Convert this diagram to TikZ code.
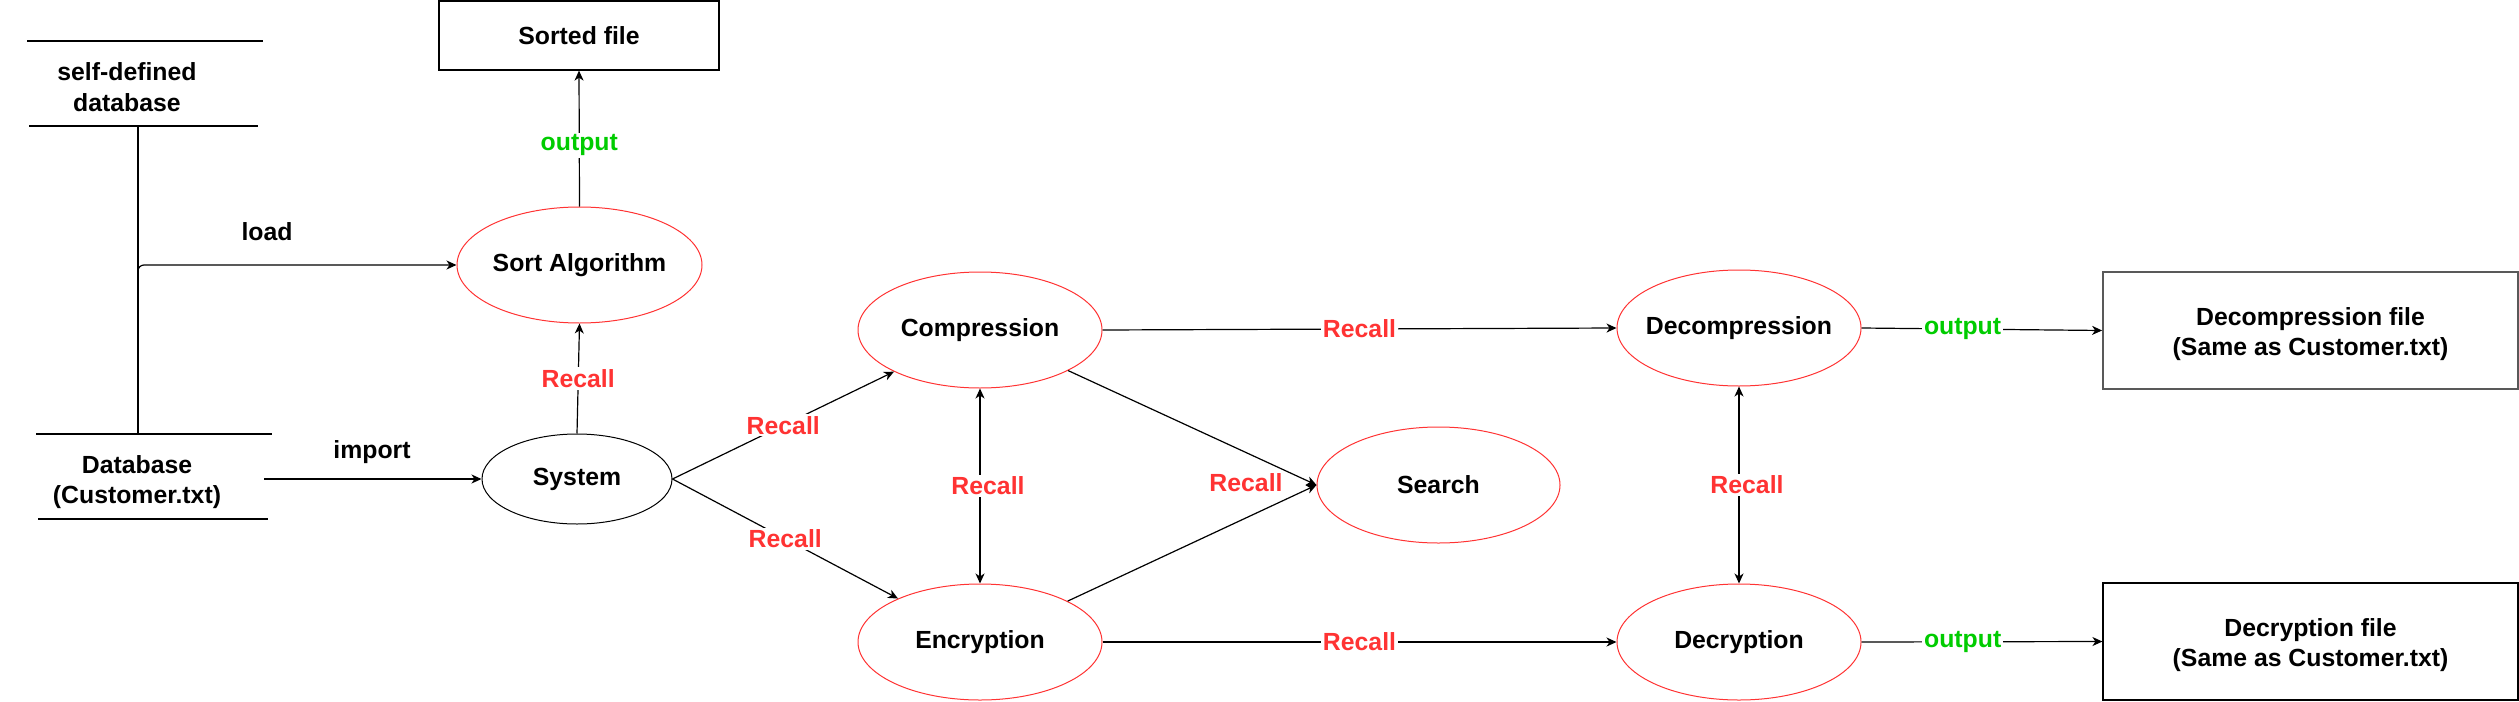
\documentclass[tikz,border=0pt]{standalone}
\usepackage{fontspec}
\setmainfont{Liberation Sans}
\usetikzlibrary{shapes.geometric,arrows.meta}
\definecolor{recallred}{HTML}{FF3333}
\definecolor{outgreen}{HTML}{00CC00}
\definecolor{ellred}{HTML}{FF3333}
\begin{document}
\begin{tikzpicture}[x=0.5pt,y=-0.5pt,
  every node/.style={font=\fontsize{12.4}{15.3}\selectfont\bfseries},
  ell/.style={ellipse, draw=ellred, line width=0.5pt, inner sep=0pt, minimum width=122pt, minimum height=58pt},
  box/.style={rectangle, draw=black, line width=0.6pt, inner sep=0pt, align=center},
  conn/.style={line width=0.6pt, draw=black},
  arr/.style={conn, -{Stealth[length=5pt,width=4.5pt,inset=1.5pt]}},
  biarr/.style={conn, {Stealth[length=5pt,width=4.5pt,inset=1.5pt]}-{Stealth[length=5pt,width=4.5pt,inset=1.5pt]}},
  rlbl/.style={text=recallred, fill=white, inner sep=1pt},
  olbl/.style={text=outgreen, fill=white, inner sep=1pt},
  plain/.style={text=black, align=center, inner sep=0pt},
]
\useasboundingbox (0,0) rectangle (2519,701);

% shapes
\node[ell, minimum width=122.5pt] (sort) at (579.5,265) {\makebox[0pt]{Sort Algorithm}};
\node[ell, draw=black, minimum width=95pt, minimum height=45pt] (sys) at (577,479) {\makebox[0pt]{System}};
\node[ell] (comp) at (980,330) {\makebox[0pt]{Compression}};
\node[ell] (enc) at (980,642) {\makebox[0pt]{Encryption}};
\node[ell, minimum width=121.5pt] (search) at (1438.5,485) {\makebox[0pt]{Search}};
\node[ell] (decomp) at (1739,328) {\makebox[0pt]{Decompression}};
\node[ell] (decr) at (1739,642) {\makebox[0pt]{Decryption}};

\node[box, minimum width=140pt, minimum height=34.5pt] (sorted) at (579,35.5) {Sorted file};
\node[box, draw=gray!70!black, line width=0.9pt, minimum width=207.5pt, minimum height=58.5pt] (dfile) at (2310.5,330.5) {};
\node[plain] (dfileT) at (2310.5,334) {Decompression file\\(Same as Customer.txt)};
\node[box, minimum width=207.5pt, minimum height=58.5pt] (cfile) at (2310.5,641.5) {};
\node[plain] (cfileT) at (2310.5,645) {Decryption file\\(Same as Customer.txt)};

% data stores
\node[plain] (selfdb) at (127,87) {self-defined\\database};
\node[plain] (db) at (137,482) {Database\\(Customer.txt)};
\draw[conn] (27,41) -- (263,41);
\draw[conn] (29,126) -- (258,126);
\draw[conn] (36,434) -- (272,434);
\draw[conn] (38,519) -- (268,519);

% free text
\node[plain] (load) at (267,232) {load};
\node[plain] (import) at (372,452) {import};

% connectors
\coordinate (sdbB) at (138,126);
\coordinate (dbT) at (138,434);
\coordinate (impS) at (264,479);
\draw[conn] (sdbB) -- (dbT);
\draw[arr, rounded corners=3pt] (dbT) |- (sort.west);
\draw[arr] (impS) -- (sys.west);
\draw[arr] (sys.north) -- node[rlbl]{Recall} (sort.south);
\draw[arr] (sort.north) -- node[olbl, pos=0.45]{output} (sorted.south);
\draw[arr] (sys.east) -- node[rlbl]{Recall} (comp);
\draw[arr] (sys.east) -- node[rlbl]{Recall} (enc);
\draw[biarr] (comp.south) -- node[rlbl, xshift=4pt]{Recall} (enc.north);
\draw[arr] (comp) -- (search.west);
\draw[arr] (enc) -- (search.west);
\draw[arr] (comp.east) -- node[rlbl]{Recall} (decomp.west);
\draw[arr] (enc.east) -- node[rlbl]{Recall} (decr.west);
\draw[biarr] (decomp.south) -- node[rlbl, xshift=4pt]{Recall} (decr.north);
\draw[arr] (decomp.east) -- node[olbl, pos=0.42]{output} (dfile.west);
\draw[arr] (decr.east) -- node[olbl, pos=0.42]{output} (cfile.west);

\node[rlbl] (recallS) at (1246,483) {Recall};
\end{tikzpicture}
\end{document}
